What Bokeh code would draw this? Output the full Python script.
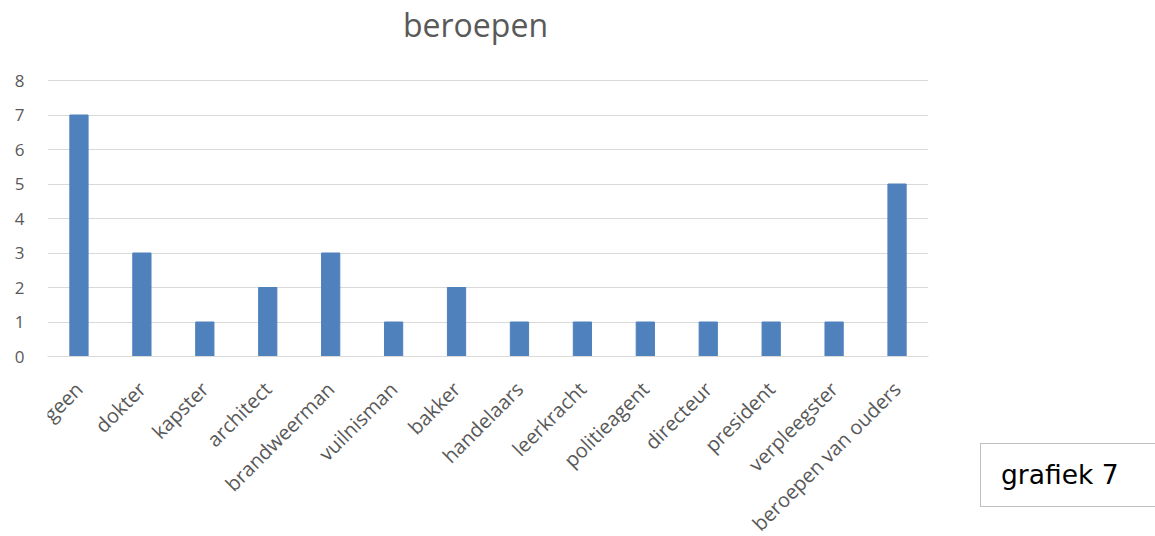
from bokeh.plotting import figure
from bokeh.models import Range1d, FactorRange, Div, Spacer, Label
from bokeh.layouts import row, column
from bokeh.embed import file_html
from bokeh.resources import INLINE
import math

# Occupations and how many times each was named
categories = ["geen", "dokter", "kapster", "architect", "brandweerman", "vuilnisman",
              "bakker", "handelaars", "leerkracht", "politieagent", "directeur",
              "president", "verpleegster", "beroepen van ouders"]
counts = [7, 3, 1, 2, 3, 1, 2, 1, 1, 1, 1, 1, 1, 5]
y_ticks = [0, 1, 2, 3, 4, 5, 6, 7, 8]

TEXT_GREY = "#595959"
GRID_GREY = "#d9d9d9"
BAR_BLUE = "#4f81bd"
FONT = "Open Sans"

# The frame fills the canvas height; the value axis keeps 34.5 px per unit,
# so the band above 8 holds the title and the band below zero the labels.
ZERO_Y, CANVAS_H = 356, 536
px_per_unit = (ZERO_Y - 80) / 8
y_start = -(CANVAS_H - ZERO_Y) / px_per_unit
y_end = ZERO_Y / px_per_unit

p = figure(width=980, height=CANVAS_H,
           x_range=FactorRange(*categories, range_padding=0),
           y_range=Range1d(y_start, y_end),
           output_backend="svg", toolbar_location=None,
           min_border_left=47, min_border_right=52,
           min_border_top=0, min_border_bottom=0)
p.outline_line_color = None
p.background_fill_color = "white"
p.border_fill_color = "white"

p.vbar(x=categories, top=counts, bottom=0, width=0.29,
       fill_color=BAR_BLUE, line_color=BAR_BLUE)

# grid
p.xgrid.grid_line_color = None
p.ygrid.ticker = y_ticks
p.ygrid.grid_line_color = GRID_GREY
p.ygrid.grid_line_width = 1

# y axis
p.yaxis.ticker = y_ticks
p.yaxis.axis_line_color = None
p.yaxis.major_tick_line_color = None
p.yaxis.minor_tick_line_color = None
p.yaxis.major_tick_out = 0
p.yaxis.major_label_standoff = 23
p.yaxis.major_label_text_font = FONT
p.yaxis.major_label_text_font_size = "17px"
p.yaxis.major_label_text_color = TEXT_GREY

# x axis, pinned to the zero line
p.xaxis.fixed_location = 0
p.xaxis.axis_line_color = GRID_GREY
p.xaxis.major_tick_line_color = None
p.xaxis.major_tick_out = 0
p.xaxis.major_label_orientation = math.pi / 4
p.xaxis.major_label_standoff = 29
p.xaxis.major_label_text_font = FONT
p.xaxis.major_label_text_font_size = "20px"
p.xaxis.major_label_text_color = TEXT_GREY

# chart title (screen offsets from the frame's lower-left corner)
p.add_layout(Label(x=428, y=CANVAS_H - 24, x_units="screen", y_units="screen",
                   text="beroepen", text_align="center", text_baseline="alphabetic",
                   text_font=FONT, text_font_size="32px", text_color=TEXT_GREY))

# caption box at the lower right
caption = Div(
    text=('<div style="width:175px;height:64px;box-sizing:border-box;'
          'border:1px solid #bfbfbf;border-right:none;background:white;'
          'padding-left:20px;line-height:62px;font-family:\'DejaVu Sans\';'
          'font-size:26.5px;color:black;white-space:nowrap;">grafiek 7</div>'),
    width=175, height=64, margin=0)
side = column(Spacer(width=175, height=443, margin=0), caption, margin=0, spacing=0)

layout = row(p, side, margin=0, spacing=0)
open("out.html", "w").write(file_html(layout, INLINE))
